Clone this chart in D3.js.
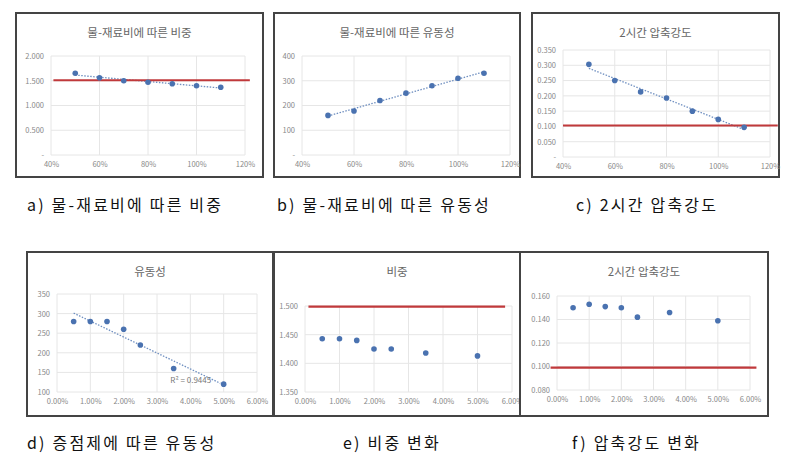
<!DOCTYPE html><html><head><meta charset="utf-8"><script src="https://cdn.jsdelivr.net/npm/d3@7"></script>
<style>body{margin:0;background:#fff}text{font-family:"Noto Sans CJK KR",sans-serif}</style></head><body><svg id="c" width="802" height="455"></svg>
<script>
const wcX=[0.5,0.6,0.7,0.8,0.9,1.0,1.1];
const aVals=[1.65,1.56,1.50,1.47,1.44,1.40,1.37];
const bVals=[160,178,220,250,280,310,330];
const cVals=[0.303,0.250,0.213,0.193,0.150,0.123,0.097];
const thX=[0.005,0.01,0.015,0.02,0.025,0.035,0.05];
const dVals=[280,280,280,260,220,160,120];
const eVals=[1.443,1.443,1.440,1.425,1.425,1.418,1.413];
const fVals=[0.150,0.153,0.151,0.150,0.142,0.146,0.139];
const titles=["물-재료비에 따른 비중","물-재료비에 따른 유동성","2시간 압축강도","유동성","비중","2시간 압축강도"];
const captions=["a) 물-재료비에 따른 비중","b) 물-재료비에 따른 유동성","c) 2시간 압축강도","d) 증점제에 따른 유동성","e) 비중 변화","f) 압축강도 변화"];
const svg=d3.select("#c");
const pct0=d3.format(".0%"), pct2=d3.format(".2%"), f3=d3.format(".3f");
function panel(o){
  const g=svg.append("g");
  g.append("rect").attr("x",o.box[0]).attr("y",o.box[1]).attr("width",o.box[2]).attr("height",o.box[3]).attr("fill","#fff").attr("stroke","#444").attr("stroke-width",2);
  g.append("text").attr("x",o.box[0]+o.box[2]/2).attr("y",o.box[1]+24).attr("text-anchor","middle").attr("font-size",11.5).attr("fill","#666").text(o.title);
  const x=d3.scaleLinear().domain(o.xd).range(o.xr), y=d3.scaleLinear().domain(o.yd).range(o.yr);
  o.xt.forEach(t=>g.append("line").attr("x1",x(t)).attr("x2",x(t)).attr("y1",o.yr[0]).attr("y2",o.yr[1]).attr("stroke","#e6e6e6"));
  o.yt.forEach(t=>g.append("line").attr("y1",y(t)).attr("y2",y(t)).attr("x1",o.xr[0]).attr("x2",o.xr[1]).attr("stroke","#e6e6e6"));
  const xa=g.append("g").attr("transform",`translate(0,${o.yr[0]+4})`).call(d3.axisBottom(x).tickValues(o.xt).tickFormat(o.xf).tickSize(0));
  const ya=g.append("g").attr("transform",`translate(${o.xr[0]-4},0)`).call(d3.axisLeft(y).tickValues(o.yt).tickFormat(o.yf).tickSize(0));
  [xa,ya].forEach(a=>{a.select(".domain").remove();a.selectAll("text").attr("font-size",7.5).attr("fill","#888");});
  if(o.trend){const mx=d3.mean(o.xs),my=d3.mean(o.ys);
    const b=d3.sum(o.xs,(v,i)=>(v-mx)*(o.ys[i]-my))/d3.sum(o.xs,v=>(v-mx)*(v-mx)),a=my-b*mx;
    g.append("line").attr("x1",x(o.trend[0])).attr("x2",x(o.trend[1])).attr("y1",y(a+b*o.trend[0])).attr("y2",y(a+b*o.trend[1])).attr("stroke","#6f8fc0").attr("stroke-width",1.3).attr("stroke-dasharray","1.5,1.5");}
  if(o.red) g.append("line").attr("x1",x(o.red[1])).attr("x2",x(o.red[2])).attr("y1",y(o.red[0])).attr("y2",y(o.red[0])).attr("stroke","#c0393b").attr("stroke-width",2.2);
  g.selectAll("circle.p").data(o.ys).join("circle").attr("cx",(d,i)=>x(o.xs[i])).attr("cy",d=>y(d)).attr("r",2.8).attr("fill","#4a72b0");
  if(o.r2) g.append("text").attr("x",x(3.4/100)).attr("y",y(122)).attr("font-size",8).attr("fill","#777").text("R² = 0.9445");
  svg.append("text").attr("x",o.cap[0]).attr("y",o.cap[1]).attr("font-size",16).attr("letter-spacing",2.2).attr("fill","#111").text(o.caption);
}
const wxt=[0.4,0.6,0.8,1.0,1.2], txt=[0,0.01,0.02,0.03,0.04,0.05,0.06];
panel({box:[16,13,247,164],title:titles[0],xd:[0.4,1.2],xr:[51,245],yd:[0,2],yr:[155,56],xt:wxt,yt:[0,0.5,1,1.5,2],xf:pct0,yf:d=>d===0?"-":f3(d),xs:wcX,ys:aVals,trend:[0.5,1.1],red:[1.51,0.41,1.22],cap:[27,211],caption:captions[0]});
panel({box:[274,13,246,164],title:titles[1],xd:[0.4,1.2],xr:[302,510],yd:[0,400],yr:[155,56],xt:wxt,yt:[0,100,200,300,400],xf:pct0,yf:d=>d===0?"-":d,xs:wcX,ys:bVals,trend:[0.5,1.1],cap:[277,211],caption:captions[1]});
panel({box:[532,13,247,164],title:titles[2],xd:[0.4,1.2],xr:[563,770],yd:[0,0.35],yr:[157,50],xt:wxt,yt:[0,0.05,0.1,0.15,0.2,0.25,0.3,0.35],xf:pct0,yf:d=>d===0?"-":f3(d),xs:wcX,ys:cVals,trend:[0.5,1.1],red:[0.103,0.4,1.23],cap:[576,211],caption:captions[2]});
panel({box:[27,252,246,164],title:titles[3],xd:[0,0.06],xr:[57,257],yd:[100,350],yr:[392,294],xt:txt,yt:[100,150,200,250,300,350],xf:pct2,yf:d=>d,xs:thX,ys:dVals,trend:[0.005,0.049],r2:true,cap:[27,449],caption:captions[3]});
panel({box:[274,252,246,164],title:titles[4],xd:[0,0.06],xr:[305,512],yd:[1.35,1.5],yr:[392,306],xt:txt,yt:[1.35,1.4,1.45,1.5],xf:pct2,yf:f3,xs:thX,ys:eVals,red:[1.499,0.001,0.058],cap:[343,449],caption:captions[4]});
panel({box:[520,252,248,164],title:titles[5],xd:[0,0.06],xr:[557,750],yd:[0.08,0.16],yr:[390,296],xt:txt,yt:[0.08,0.1,0.12,0.14,0.16],xf:pct2,yf:f3,xs:thX,ys:fVals,red:[0.099,-0.002,0.062],cap:[572,449],caption:captions[5]});
</script></body></html>
